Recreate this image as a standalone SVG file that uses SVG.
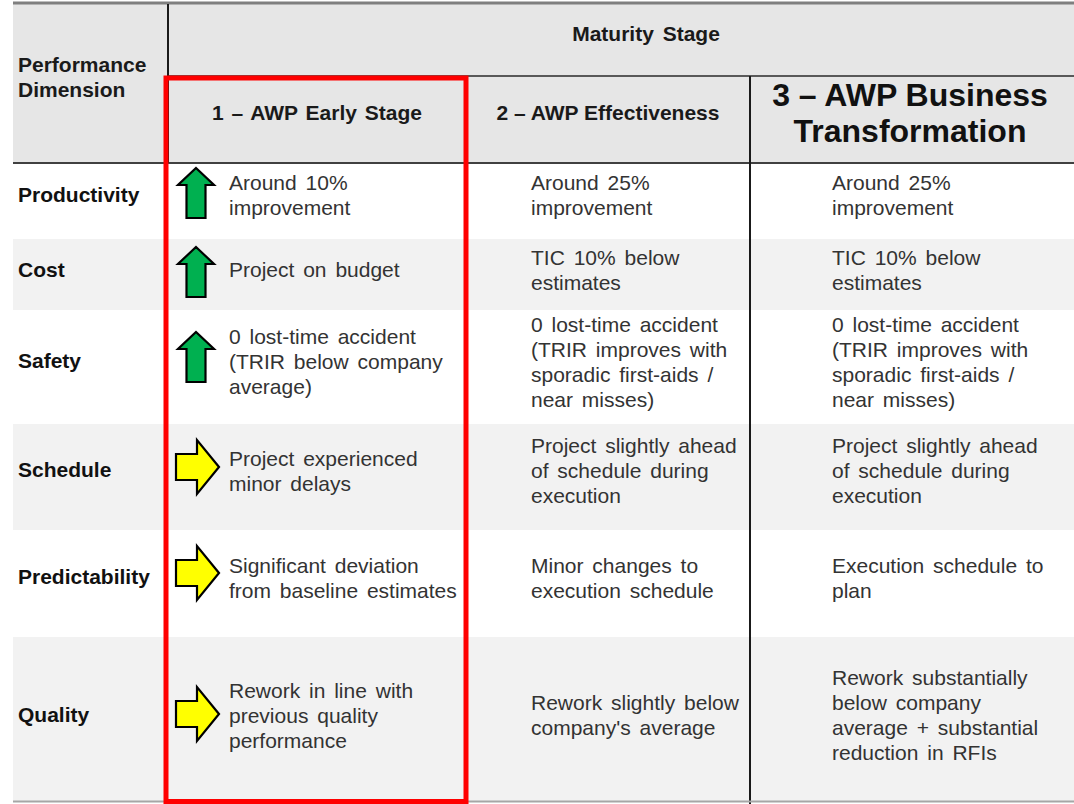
<svg xmlns="http://www.w3.org/2000/svg" width="1074" height="804" viewBox="0 0 1074 804">
<style>
.hdr{font-family:"Liberation Sans",Arial,sans-serif;font-weight:bold;font-size:21px;fill:#1a1a1a}
.big{font-family:"Liberation Sans",Arial,sans-serif;font-weight:bold;font-size:32px;fill:#111}
.lbl{font-family:"Liberation Sans",Arial,sans-serif;font-weight:bold;font-size:21px;fill:#111}
.txt{font-family:"Liberation Sans",Arial,sans-serif;font-size:21px;fill:#333;word-spacing:3px}
.up{fill:#00b050;stroke:#000;stroke-width:2.2;stroke-linejoin:miter}
.rt{fill:#ffff00;stroke:#000;stroke-width:2.2;stroke-linejoin:miter}
</style>
<defs>
<path id="upArrow" d="M0,0 L18,17 L9.5,17 L9.5,50 L-9.5,50 L-9.5,17 L-18,17 Z"/>
<path id="rtArrow" d="M0,0 L-22,-27 L-22,-13 L-43,-13 L-43,13 L-22,13 L-22,27 Z"/>
</defs>
<rect x="0" y="0" width="1074" height="804" fill="#ffffff"/>
<g id="backgrounds">
<rect x="13" y="4" width="1061" height="159" fill="#e6e6e6"/>
<rect x="13" y="163" width="1061" height="76" fill="#ffffff"/>
<rect x="13" y="239" width="1061" height="71" fill="#f2f2f2"/>
<rect x="13" y="310" width="1061" height="114" fill="#ffffff"/>
<rect x="13" y="424" width="1061" height="106" fill="#f2f2f2"/>
<rect x="13" y="530" width="1061" height="107" fill="#ffffff"/>
<rect x="13" y="637" width="1061" height="164" fill="#f2f2f2"/>
</g>
<g id="grid" stroke-linecap="butt">
<line x1="13" y1="3" x2="1074" y2="3" stroke="#7f7f7f" stroke-width="3"/>
<line x1="168" y1="76" x2="1074" y2="76" stroke="#595959" stroke-width="2"/>
<line x1="13" y1="163" x2="1074" y2="163" stroke="#404040" stroke-width="2"/>
<line x1="168" y1="4" x2="168" y2="163" stroke="#1a1a1a" stroke-width="2"/>
<line x1="750" y1="76" x2="750" y2="804" stroke="#1a1a1a" stroke-width="2"/>
<line x1="13" y1="801.5" x2="1074" y2="801.5" stroke="#a6a6a6" stroke-width="2"/>
</g>
<g id="header">
<text class="hdr" x="18" y="72">Performance</text>
<text class="hdr" x="18" y="97">Dimension</text>
<text class="hdr" x="646" y="41" text-anchor="middle" word-spacing="3">Maturity Stage</text>
<text class="hdr" x="317" y="120" text-anchor="middle" word-spacing="2">1 – AWP Early Stage</text>
<text class="hdr" x="608" y="120" text-anchor="middle">2 – AWP Effectiveness</text>
<text class="big" x="910" y="106" text-anchor="middle">3 – AWP Business</text>
<text class="big" x="910" y="142" text-anchor="middle">Transformation</text>
</g>
<g id="row-productivity">
<text class="lbl" x="18" y="202">Productivity</text>
<use href="#upArrow" class="up" x="196" y="168"/>
<text class="txt" x="229" y="190">Around 10%</text>
<text class="txt" x="229" y="215">improvement</text>
<text class="txt" x="531" y="190">Around 25%</text>
<text class="txt" x="531" y="215">improvement</text>
<text class="txt" x="832" y="190">Around 25%</text>
<text class="txt" x="832" y="215">improvement</text>
</g>
<g id="row-cost">
<text class="lbl" x="18" y="277">Cost</text>
<use href="#upArrow" class="up" x="196" y="247"/>
<text class="txt" x="229" y="277">Project on budget</text>
<text class="txt" x="531" y="265">TIC 10% below</text>
<text class="txt" x="531" y="290">estimates</text>
<text class="txt" x="832" y="265">TIC 10% below</text>
<text class="txt" x="832" y="290">estimates</text>
</g>
<g id="row-safety">
<text class="lbl" x="18" y="368">Safety</text>
<use href="#upArrow" class="up" x="196" y="332"/>
<text class="txt" x="229" y="344">0 lost-time accident</text>
<text class="txt" x="229" y="369">(TRIR below company</text>
<text class="txt" x="229" y="394">average)</text>
<text class="txt" x="531" y="332">0 lost-time accident</text>
<text class="txt" x="531" y="357">(TRIR improves with</text>
<text class="txt" x="531" y="382">sporadic first-aids /</text>
<text class="txt" x="531" y="407">near misses)</text>
<text class="txt" x="832" y="332">0 lost-time accident</text>
<text class="txt" x="832" y="357">(TRIR improves with</text>
<text class="txt" x="832" y="382">sporadic first-aids /</text>
<text class="txt" x="832" y="407">near misses)</text>
</g>
<g id="row-schedule">
<text class="lbl" x="18" y="477">Schedule</text>
<use href="#rtArrow" class="rt" x="219" y="467"/>
<text class="txt" x="229" y="466">Project experienced</text>
<text class="txt" x="229" y="491">minor delays</text>
<text class="txt" x="531" y="453">Project slightly ahead</text>
<text class="txt" x="531" y="478">of schedule during</text>
<text class="txt" x="531" y="503">execution</text>
<text class="txt" x="832" y="453">Project slightly ahead</text>
<text class="txt" x="832" y="478">of schedule during</text>
<text class="txt" x="832" y="503">execution</text>
</g>
<g id="row-predictability">
<text class="lbl" x="18" y="584">Predictability</text>
<use href="#rtArrow" class="rt" x="219" y="573"/>
<text class="txt" x="229" y="573">Significant deviation</text>
<text class="txt" x="229" y="598">from baseline estimates</text>
<text class="txt" x="531" y="573">Minor changes to</text>
<text class="txt" x="531" y="598">execution schedule</text>
<text class="txt" x="832" y="573">Execution schedule to</text>
<text class="txt" x="832" y="598">plan</text>
</g>
<g id="row-quality">
<text class="lbl" x="18" y="722">Quality</text>
<use href="#rtArrow" class="rt" x="219" y="714"/>
<text class="txt" x="229" y="698">Rework in line with</text>
<text class="txt" x="229" y="723">previous quality</text>
<text class="txt" x="229" y="748">performance</text>
<text class="txt" x="531" y="710">Rework slightly below</text>
<text class="txt" x="531" y="735">company's average</text>
<text class="txt" x="832" y="685">Rework substantially</text>
<text class="txt" x="832" y="710">below company</text>
<text class="txt" x="832" y="735">average + substantial</text>
<text class="txt" x="832" y="760">reduction in RFIs</text>
</g>
<g id="highlight">
<rect x="166" y="78" width="300" height="723.5" fill="none" stroke="#ff0000" stroke-width="5"/>
</g>
</svg>
